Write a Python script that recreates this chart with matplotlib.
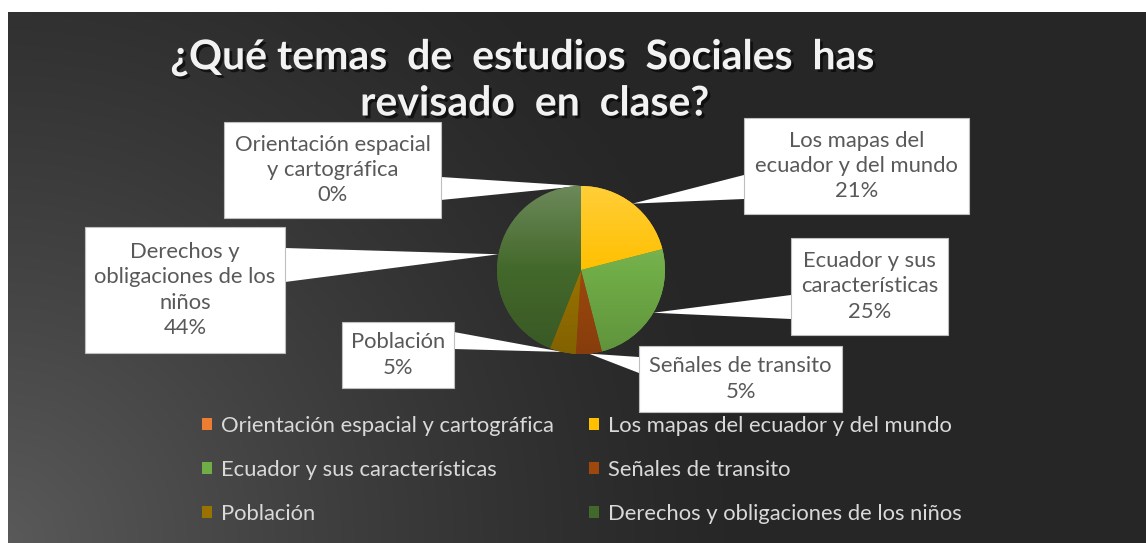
import numpy as np
import matplotlib
matplotlib.use("Agg")
import matplotlib.pyplot as plt
import matplotlib.patheffects as pe
from matplotlib.patches import Rectangle, Polygon
from matplotlib.colors import to_rgb

W, H = 1146, 543

# data
categories = ["Orientación espacial y cartográfica", "Los mapas del ecuador y del mundo",
              "Ecuador y sus características", "Señales de transito",
              "Población", "Derechos y obligaciones de los niños"]
values = [0, 21, 25, 5, 5, 44]
box_texts = ["Orientación espacial\ny cartográfica\n0%",
             "Los mapas del\necuador y del mundo\n21%",
             "Ecuador y sus\ncaracterísticas\n25%",
             "Señales de transito\n5%",
             "Población\n5%",
             "Derechos y\nobligaciones de los\nniños\n44%"]
colors = ["#ED7D31", "#FFC000", "#70AD47", "#9E480E", "#997300", "#43682B"]

# layout (pixel coords, y from top)
boxes = [(224, 122, 441, 218), (744, 118, 969, 214), (791, 238, 948, 335),
         (639, 346, 842, 412), (342, 322, 454, 388), (85, 227, 285, 353)]
anchors = [("r", 177, 200), ("l", 175, 199), ("l", 295, 319),
           ("l", 357, 373), ("r", 332, 349), ("r", 248, 282)]
cx, cy, r = 581, 270, 84

plt.rcParams['font.family'] = ['Lato', 'DejaVu Sans']

def Y(y):
    return H - y

fig = plt.figure(figsize=(W / 100, H / 100), dpi=100, facecolor="white")
ax = fig.add_axes([0, 0, 1, 1])
ax.set_xlim(0, W)
ax.set_ylim(0, H)
ax.axis('off')

# dark gradient background
xx, yy = np.meshgrid(np.arange(8, W), np.arange(12, H))
d = np.hypot(xx - 0, yy - H) / 760.0
v = (0x26 + (0x5a - 0x26) * np.clip(1 - d, 0, 1) ** 1.3) / 255.0
ax.imshow(np.dstack([v, v, v]), extent=(8, W, Y(H), Y(12)), origin='upper',
          aspect='auto', zorder=0, interpolation='bilinear')

# pie
wedges, _ = ax.pie(values, colors=colors, startangle=90, counterclock=False,
                   center=(cx, Y(cy)), radius=r, frame=True,
                   wedgeprops=dict(linewidth=0))
tk = np.linspace(0, 1, 200)
for w, c in zip(wedges, colors):
    w.set_zorder(3)
    base = np.array(to_rgb(c))
    top = base + (1 - base) * 0.22
    bot = base * 0.85
    grad = np.zeros((200, 2, 3))
    for k in range(3):
        grad[:, :, k] = np.where(tk < 0.5, top[k] + (base[k] - top[k]) * (tk / 0.5),
                                 base[k] + (bot[k] - base[k]) * ((tk - 0.5) / 0.5))[:, None]
    im = ax.imshow(grad, extent=(cx - r, cx + r, Y(cy + r), Y(cy - r)), origin='upper',
                   aspect='auto', zorder=4, interpolation='bilinear')
    im.set_clip_path(w)
ax.set_xlim(0, W)
ax.set_ylim(0, H)

# callouts
cum = np.cumsum([0] + values[:-1])
for i, val in enumerate(values):
    ang = np.deg2rad((cum[i] + val / 2) / 100 * 360)
    tx, ty = cx + r * np.sin(ang), cy - r * np.cos(ang)
    x0, y0, x1, y1 = boxes[i]
    side, a0, a1 = anchors[i]
    ex = x1 if side == "r" else x0
    ax.add_patch(Polygon([(tx, Y(ty)), (ex, Y(a0)), (ex, Y(a1))], closed=True,
                         facecolor="white", edgecolor="none", zorder=2))
    ax.add_patch(Rectangle((x0, Y(y1)), x1 - x0, y1 - y0, facecolor="white",
                           edgecolor="#BFBFBF", linewidth=0.8, zorder=5))
    ax.text((x0 + x1) / 2, Y((y0 + y1) / 2), box_texts[i], ha='center', va='center',
            fontsize=15.8, color="#595959", linespacing=1.33, zorder=6)

# title
shadow = [pe.SimplePatchShadow(offset=(2, -2), shadow_rgbFace='black', alpha=0.6), pe.Normal()]
ax.text(523, Y(58), "¿Qué temas  de  estudios  Sociales  has", ha='center', va='center',
        fontsize=29.5, fontweight='bold', color="#F2F2F2", path_effects=shadow, zorder=7)
ax.text(535, Y(104), "revisado  en  clase?", ha='center', va='center',
        fontsize=29.5, fontweight='bold', color="#F2F2F2", path_effects=shadow, zorder=7)

# legend
order = [0, 2, 4, 1, 3, 5]
handles = [Rectangle((0, 0), 1, 1, facecolor=colors[i], edgecolor='none') for i in order]
labels = [categories[i] for i in order]
leg = fig.legend(handles, labels, ncol=2, loc='upper left',
                 bbox_to_anchor=(202 / W, Y(416) / H), frameon=False,
                 fontsize=15.8, labelcolor="#D9D9D9", handlelength=0.46, handleheight=0.46,
                 handletextpad=0.4, columnspacing=1.6, labelspacing=1.1,
                 borderpad=0, borderaxespad=0)

fig.savefig("out.png", dpi=100, facecolor="white")
